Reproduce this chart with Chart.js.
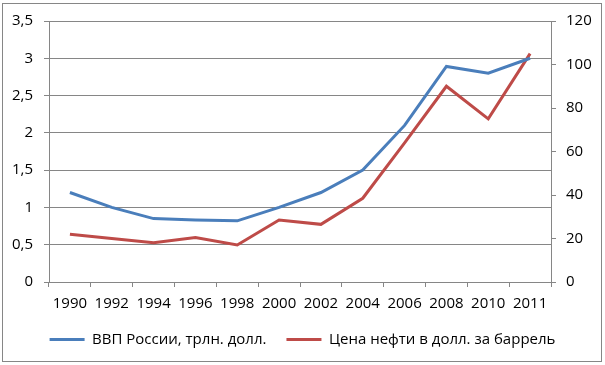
<!DOCTYPE html>
<html>
<head>
<meta charset="utf-8">
<script src="https://cdn.jsdelivr.net/npm/chart.js@4"></script>
<style>
  html, body { margin: 0; padding: 0; background: #fff; }
  #frame { position: absolute; left: 2px; top: 3px; width: 598px; height: 357px; border: 1px solid #868686; }
  #wrap { position: absolute; left: 0; top: 0; width: 605px; height: 365px; }
</style>
</head>
<body>
<div id="frame"></div>
<div id="wrap"><canvas id="chart"></canvas></div>
<script>
// years on the x axis
const years = ["1990", "1992", "1994", "1996", "1998", "2000", "2002", "2004", "2006", "2008", "2010", "2011"];
// GDP of Russia, trillion dollars (left axis)
const gdp = [1.2, 1.0, 0.85, 0.83, 0.82, 1.0, 1.2, 1.5, 2.1, 2.89, 2.8, 3.0];
// oil price, dollars per barrel (right axis)
const oil = [22, 20, 18, 20.5, 17, 28.5, 26.5, 38.5, 64, 90, 75, 105];

const gdpLabel = "ВВП России, трлн. долл.";
const oilLabel = "Цена нефти в долл. за баррель";

Chart.defaults.font.family = "'Open Sans', sans-serif";
Chart.defaults.font.size = 15;
Chart.defaults.color = "#000";

const gridColor = "#868686";

new Chart(document.getElementById("chart").getContext("2d"), {
    type: "line",
    data: {
        labels: years,
        datasets: [
            { label: gdpLabel, data: gdp, yAxisID: "y", borderColor: "#4A7EBB", backgroundColor: "#4A7EBB", borderWidth: 3, pointRadius: 0, tension: 0, fill: false },
            { label: oilLabel, data: oil, yAxisID: "y2", borderColor: "#BE4B48", backgroundColor: "#BE4B48", borderWidth: 3, pointRadius: 0, tension: 0, fill: false }
        ]
    },
    options: {
        responsive: true,
        maintainAspectRatio: false,
        animation: false,
        layout: { padding: { top: 21, left: 0, right: 0, bottom: 8 } },
        plugins: {
            tooltip: { enabled: false },
            legend: {
                position: "bottom",
                labels: {
                    boxWidth: 35, boxHeight: 3, padding: 20, color: "#000",
                    generateLabels: chart => Chart.defaults.plugins.legend.labels.generateLabels(chart).map(l => ({ ...l, lineWidth: 0 }))
                }
            }
        },
        scales: {
            x: {
                offset: true,
                grid: { offset: true, drawOnChartArea: false, color: gridColor, tickLength: 5 },
                border: { color: gridColor },
                ticks: { padding: 8, maxRotation: 0, autoSkip: false },
                afterFit: s => { s.height = 30; }
            },
            y: {
                position: "left",
                min: 0, max: 3.5,
                ticks: { stepSize: 0.5, padding: 11, callback: v => String(v).replace(".", ",") },
                grid: { color: gridColor, tickLength: 5 },
                border: { color: gridColor },
                afterFit: s => { s.width = 49; }
            },
            y2: {
                position: "right",
                min: 0, max: 120,
                ticks: { stepSize: 20, padding: 10 },
                grid: { drawOnChartArea: false, color: gridColor, tickLength: 5 },
                border: { color: gridColor },
                afterFit: s => { s.width = 54; }
            }
        }
    }
});
</script>
</body>
</html>
